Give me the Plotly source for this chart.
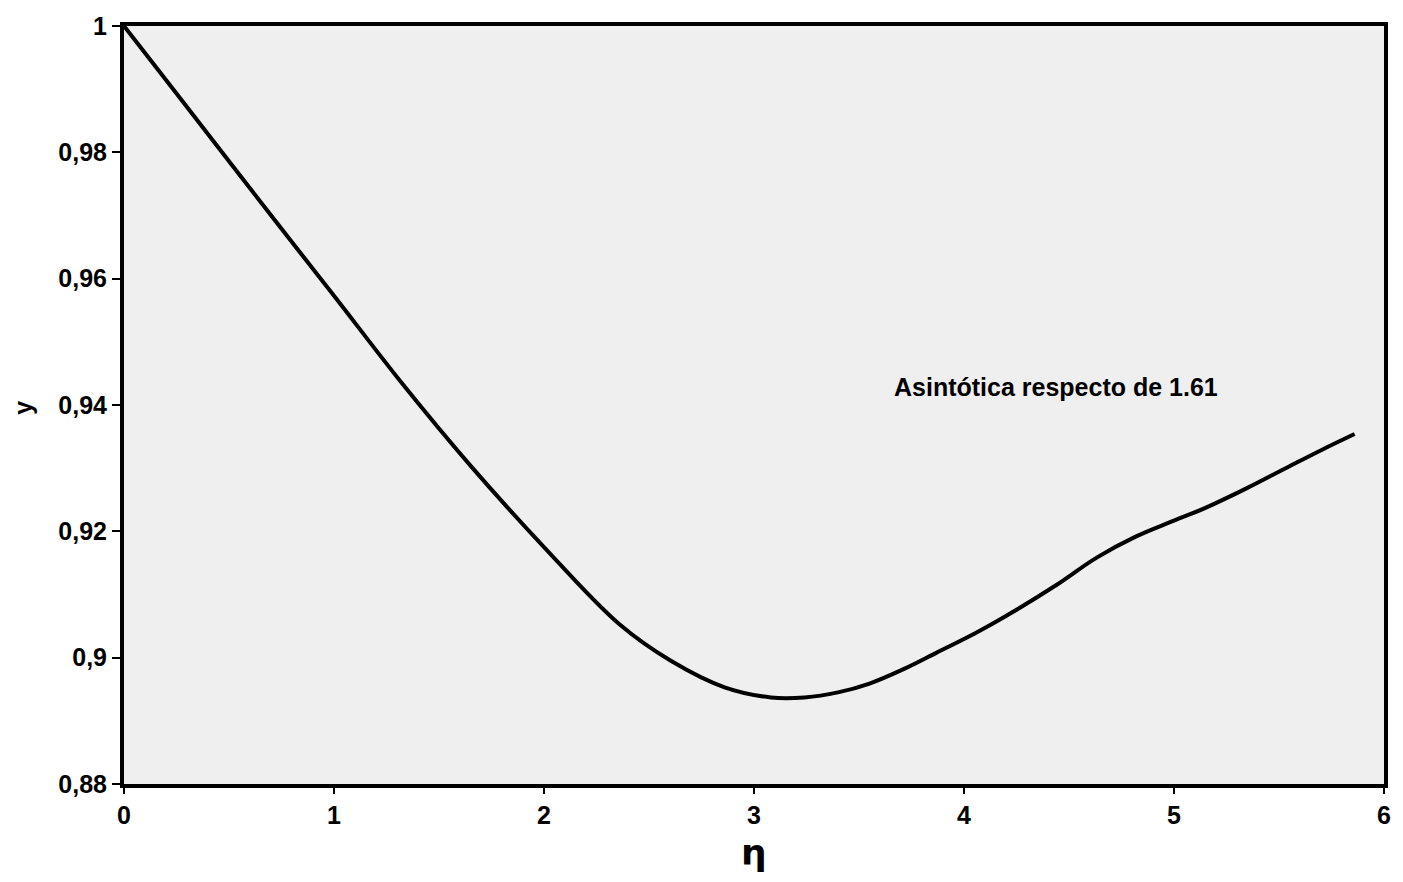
import plotly.graph_objects as go

eta = [0, 0.25, 0.5, 0.75, 1.0, 1.32, 1.655, 2.0, 2.355, 2.604, 2.86, 3.08, 3.24, 3.40,
       3.55, 3.72, 3.87, 4.06, 4.20, 4.44, 4.63, 4.82, 5.0, 5.155, 5.345, 5.55, 5.71, 5.86]
y_vals = [1.0, 0.9893, 0.9786, 0.9679, 0.9573, 0.9436, 0.9302, 0.9175, 0.9054, 0.8995,
          0.8953, 0.8937, 0.8937, 0.8945, 0.8959, 0.8983, 0.9008, 0.9040, 0.9066, 0.9115,
          0.9158, 0.9192, 0.9217, 0.9238, 0.9268, 0.9303, 0.9330, 0.9354]

x_ticks = [0, 1, 2, 3, 4, 5, 6]
x_ticktext = ["0", "1", "2", "3", "4", "5", "6"]
y_ticks = [0.88, 0.9, 0.92, 0.94, 0.96, 0.98, 1.0]
y_ticktext = ["0,88", "0,9", "0,92", "0,94", "0,96", "0,98", "1"]

annotation_text = "Asintótica respecto de 1.61"

font_fam = "Liberation Sans, Arial, sans-serif"

fig = go.Figure()
fig.add_trace(go.Scatter(
    x=eta, y=y_vals, mode="lines",
    line=dict(color="black", width=4, shape="spline", smoothing=1.0),
    showlegend=False, hoverinfo="skip",
))

fig.update_layout(
    width=1403, height=882,
    margin=dict(l=124, r=13, t=22, b=98),
    paper_bgcolor="white",
    plot_bgcolor="#efefef",
    font=dict(family=font_fam, color="black"),
    showlegend=False,
    annotations=[
        dict(text="<b>" + annotation_text + "</b>", x=4.437, y=0.9428, xref="x", yref="y",
             xanchor="center", yanchor="middle",
             showarrow=False, font=dict(size=25, family=font_fam, color="black")),
        dict(text="<b>y</b>", x=-0.0798, y=0.497, xref="paper", yref="paper",
             xanchor="center", yanchor="middle",
             showarrow=False, textangle=-90, font=dict(size=25, family=font_fam, color="black")),
        dict(text="<b>η</b>", x=0.5, y=-0.091, xref="paper", yref="paper",
             xanchor="center", yanchor="middle",
             showarrow=False, font=dict(size=36, family="DejaVu Sans, sans-serif", color="black")),
    ],
)

fig.update_xaxes(
    range=[0, 6], tickvals=x_ticks, ticktext=["<b>%s</b>" % t for t in x_ticktext],
    showgrid=False, zeroline=False, showline=True, linecolor="black", linewidth=4,
    mirror=True, ticks="outside", ticklen=6, tickwidth=2, tickcolor="black",
    tickfont=dict(size=25, family=font_fam, color="black"),
)
fig.update_yaxes(
    range=[0.88, 1.0], tickvals=y_ticks, ticktext=["<b>%s</b>" % t for t in y_ticktext],
    showgrid=False, zeroline=False, showline=True, linecolor="black", linewidth=4,
    mirror=True, ticks="outside", ticklen=8, tickwidth=2, tickcolor="black",
    tickfont=dict(size=25, family=font_fam, color="black"),
)

fig.write_html("out.html")
